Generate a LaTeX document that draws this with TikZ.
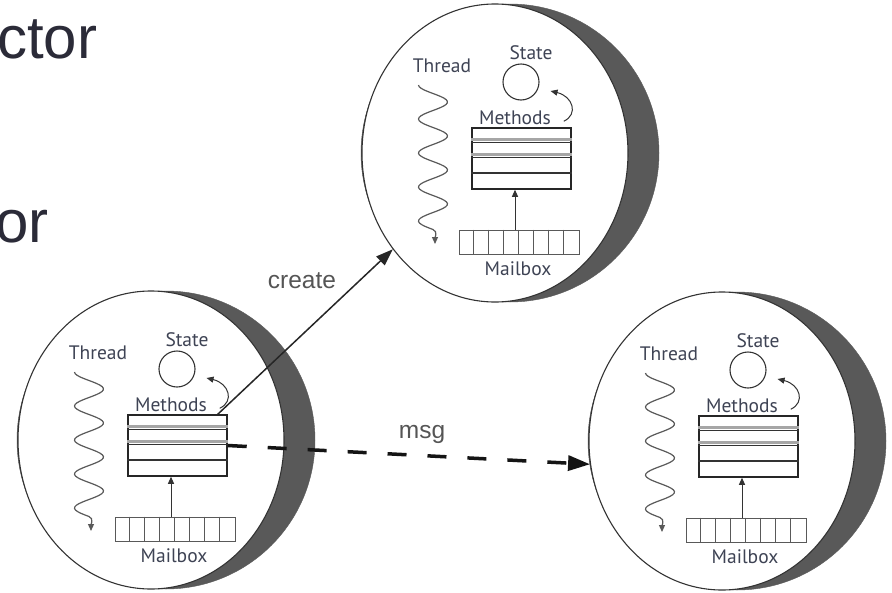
\documentclass[tikz,border=0pt]{standalone}
\usepackage{fontspec}
\setmainfont{Liberation Sans}
\newfontfamily\labelfont{PT Sans}
\usetikzlibrary{arrows.meta,shapes.geometric,calc}

\definecolor{ink}{HTML}{2B2B38}
\definecolor{rim}{HTML}{595959}
\definecolor{outline}{HTML}{333333}
\definecolor{lbl}{HTML}{3E4354}
\definecolor{conn}{HTML}{555555}

\tikzset{
  rimdisc/.style={circle, fill=rim, draw=rim, minimum size=298pt, inner sep=0pt},
  body/.style={ellipse, fill=white, draw=outline, line width=1.1pt,
    minimum width=266pt, minimum height=298pt, inner sep=0pt},
  lbltext/.style={font=\labelfont\fontsize{19.5}{21}\selectfont, text=lbl, inner sep=0pt},
  statecirc/.style={circle, draw=outline, line width=1.1pt, minimum size=36pt, inner sep=0pt},
  methbox/.style={rectangle, draw=black!85, line width=1.5pt,
    minimum width=99pt, minimum height=61pt, inner sep=0pt},
  mailbox/.style={rectangle, draw=black!65, line width=0.9pt,
    minimum width=120pt, minimum height=24pt, inner sep=0pt},
  cellline/.style={draw=black!65, line width=0.9pt},
  rowgray/.style={draw=black!35, line width=2.6pt},
  rowline/.style={draw=black!80, line width=1pt},
  smallarrow/.style={-{Triangle[length=7pt,width=6pt]}, line width=1pt, draw=outline},
  wave/.style={-{Triangle[length=7pt,width=6pt]}, line width=1.2pt, draw=black!65},
  createline/.style={-{Triangle[length=17pt,width=12pt]}, line width=1.5pt, draw=black!85},
  msgline/.style={-{Triangle[length=22pt,width=15pt]}, line width=3.5pt, draw=black!92,
    dash pattern=on 19pt off 21pt},
  conntext/.style={font=\fontsize{24.5}{26}\selectfont, text=conn, inner sep=0pt},
  headtext/.style={font=\fontsize{60}{64}\selectfont, text=ink, inner sep=0pt, anchor=base west},
}

% One actor: rim disc, white body, thread, state, methods and mailbox
\newcommand\drawactor[3]{%
  \begin{scope}[shift={(#2,#3)}]
    \node[rimdisc] (#1-rim) at (0,0) {};
    \node[body] (#1) at (-15,0) {};
    \node[lbltext] (#1-thr) at (-68,-87) {Thread};
    \draw[wave] plot[smooth, samples=90, domain=-68:76.5, variable=\t]
        ({-77-14.5*cos((\t+68)/34*360)}, \t)
        .. controls (-72,78.5) and (-75,85) .. (-75,91);
    \node[lbltext] (#1-stl) at (21,-100) {State};
    \node[statecirc] (#1-s) at (11,-71) {};
    \node[lbltext] (#1-ml) at (5,-35) {Methods};
    \node[methbox] (#1-m) at (11.5,5.5) {};
    \foreach \k in {1,2} {
      \draw[rowgray] ($(#1-m.north west)+(0,15.25*\k-3)$) -- ($(#1-m.north east)+(0,15.25*\k-3)$);
      \draw[rowline] ($(#1-m.north west)+(0,15.25*\k)$) -- ($(#1-m.north east)+(0,15.25*\k)$);
    }
    \draw[rowline, line width=1.3pt] ($(#1-m.north west)+(0,45.75)$) -- ($(#1-m.north east)+(0,45.75)$);
    \node[mailbox] (#1-mb) at (9,89) {};
    \foreach \k in {1,...,7} {
      \draw[cellline] ($(#1-mb.north west)+(\k*15,0)$) -- ($(#1-mb.south west)+(\k*15,0)$);
    }
    \node[lbltext] (#1-mbl) at (8,116) {Mailbox};
    \coordinate (#1-in) at ($(#1-mb.north)+(-4,0)$);
    \draw[smallarrow] (#1-in) -- (#1-in |- #1-m.south);
    \draw[smallarrow] ($(#1-m.north east)+(-8,-6)$)
        .. controls ($(#1-m.north east)+(7,-13)$) and ($(#1-m.north east)+(1,-31)$)
        .. ($(#1-s.east)+(11,9)$);
  \end{scope}}

\begin{document}
\begin{tikzpicture}[x=1pt, y=-1pt]
  \useasboundingbox (0,0) rectangle (892,592);
  \clip (0,0) rectangle (892,592);
  \fill[white] (0,0) rectangle (892,592);

  % heading fragments at the left edge
  \node[headtext] (h1) at (-3,58) {ctor};
  \node[headtext] (h2) at (-5,242) {or};

  % actors
  \drawactor{T}{510}{153}
  \drawactor{L}{166}{440}
  \drawactor{R}{737}{441}

  % connectors between actors
  \coordinate (cs) at ($(L-m.north east)+(-10,0)$);
  \draw[createline] (cs) -- (T);
  \node[conntext] (createlbl) at (302,281) {create};

  \draw[msgline] (L-m.east) -- (R.190);
  \node[conntext] (msglbl) at (422,434) {msg};
\end{tikzpicture}
\end{document}
